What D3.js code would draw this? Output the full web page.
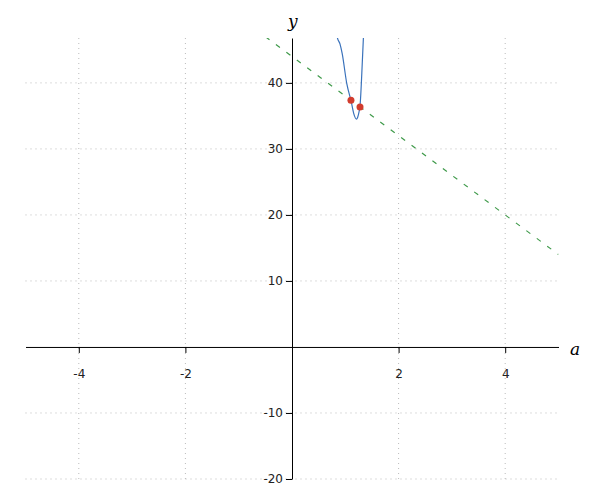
<!DOCTYPE html>
<html>
<head>
<meta charset="utf-8">
<script src="https://cdn.jsdelivr.net/npm/d3@7"></script>
<style>
  body { margin: 0; background: #fff; }
</style>
</head>
<body>
<div id="chart"></div>
<script>
const xTicks = [-4, -2, 2, 4];
const yTicks = [-20, -10, 10, 20, 30, 40];

// blue curve
const curveX = [0.83, 0.85, 0.90, 0.94, 1.03, 1.11, 1.16, 1.21, 1.24, 1.28, 1.31, 1.34, 1.35];
const curveY = [48.5, 46.9, 45.9, 44.5, 39.8, 37.2, 35.3, 34.5, 35.0, 36.9, 41.5, 46.9, 49];

// secant line
const lineX = [-5, 5];
const lineY = [74, 14];

// red points
const pointX = [1.106, 1.276];
const pointY = [37.36, 36.34];

let width = 600;
let height = 500;

const svg = d3.select("#chart")
  .append("svg")
  .attr("width", width)
  .attr("height", height);

const x = d3.scaleLinear().domain([-5, 5]).range([25.5, 558.5]);
const y = d3.scaleLinear().domain([-20, 46.8]).range([479, 38]);

svg.append("defs").append("clipPath")
  .attr("id", "plot")
  .append("rect")
  .attr("x", x(-5))
  .attr("y", y(46.8))
  .attr("width", x(5) - x(-5))
  .attr("height", y(-20) - y(46.8));

// grid
svg.append("g")
  .selectAll("line")
  .data(xTicks)
  .join("line")
  .attr("x1", d => x(d)).attr("x2", d => x(d))
  .attr("y1", y(46.8)).attr("y2", y(-20))
  .attr("stroke", "#bbb")
  .attr("stroke-width", 1)
  .attr("stroke-dasharray", "1,4");

svg.append("g")
  .selectAll("line")
  .data(yTicks)
  .join("line")
  .attr("x1", x(-5)).attr("x2", x(5))
  .attr("y1", d => y(d)).attr("y2", d => y(d))
  .attr("stroke", "#bbb")
  .attr("stroke-width", 1)
  .attr("stroke-dasharray", "1,4");

// axes through the origin
const fmt = d => String(d);

const xAxis = svg.append("g")
  .attr("transform", `translate(0,${y(0)})`)
  .call(d3.axisBottom(x).tickValues(xTicks).tickFormat(fmt).tickSizeOuter(0).tickPadding(17));

const yAxis = svg.append("g")
  .attr("transform", `translate(${x(0)},0)`)
  .call(d3.axisLeft(y).tickValues(yTicks).tickFormat(fmt).tickSizeOuter(0).tickPadding(3));

[xAxis, yAxis].forEach(g => {
  g.select(".domain").attr("stroke", "#000").attr("stroke-width", 1);
  g.selectAll(".tick line").attr("stroke", "#000");
  g.selectAll(".tick text")
    .attr("fill", "#222")
    .style("font-family", "DejaVu Sans")
    .style("font-size", "12px");
});

svg.append("text")
  .attr("x", 570)
  .attr("y", 355)
  .attr("font-family", "DejaVu Serif")
  .attr("font-style", "italic")
  .attr("font-size", 17)
  .text("a");

svg.append("text")
  .attr("x", 288)
  .attr("y", 27)
  .attr("font-family", "DejaVu Serif")
  .attr("font-style", "italic")
  .attr("font-size", 17)
  .text("y");

const plot = svg.append("g").attr("clip-path", "url(#plot)");

plot.append("path")
  .datum(lineX.map((d, i) => [d, lineY[i]]))
  .attr("fill", "none")
  .attr("stroke", "#3f9a4a")
  .attr("stroke-width", 1.2)
  .attr("stroke-dasharray", "5,8")
  .attr("d", d3.line().x(d => x(d[0])).y(d => y(d[1])));

plot.append("path")
  .datum(curveX.map((d, i) => [d, curveY[i]]))
  .attr("fill", "none")
  .attr("stroke", "#3a72bb")
  .attr("stroke-width", 1.2)
  .attr("d", d3.line().curve(d3.curveMonotoneX).x(d => x(d[0])).y(d => y(d[1])));

svg.append("g")
  .selectAll("circle")
  .data(pointX)
  .join("circle")
  .attr("cx", d => x(d))
  .attr("cy", (d, i) => y(pointY[i]))
  .attr("r", 3.5)
  .attr("fill", "#d23c2e");
</script>
</body>
</html>
